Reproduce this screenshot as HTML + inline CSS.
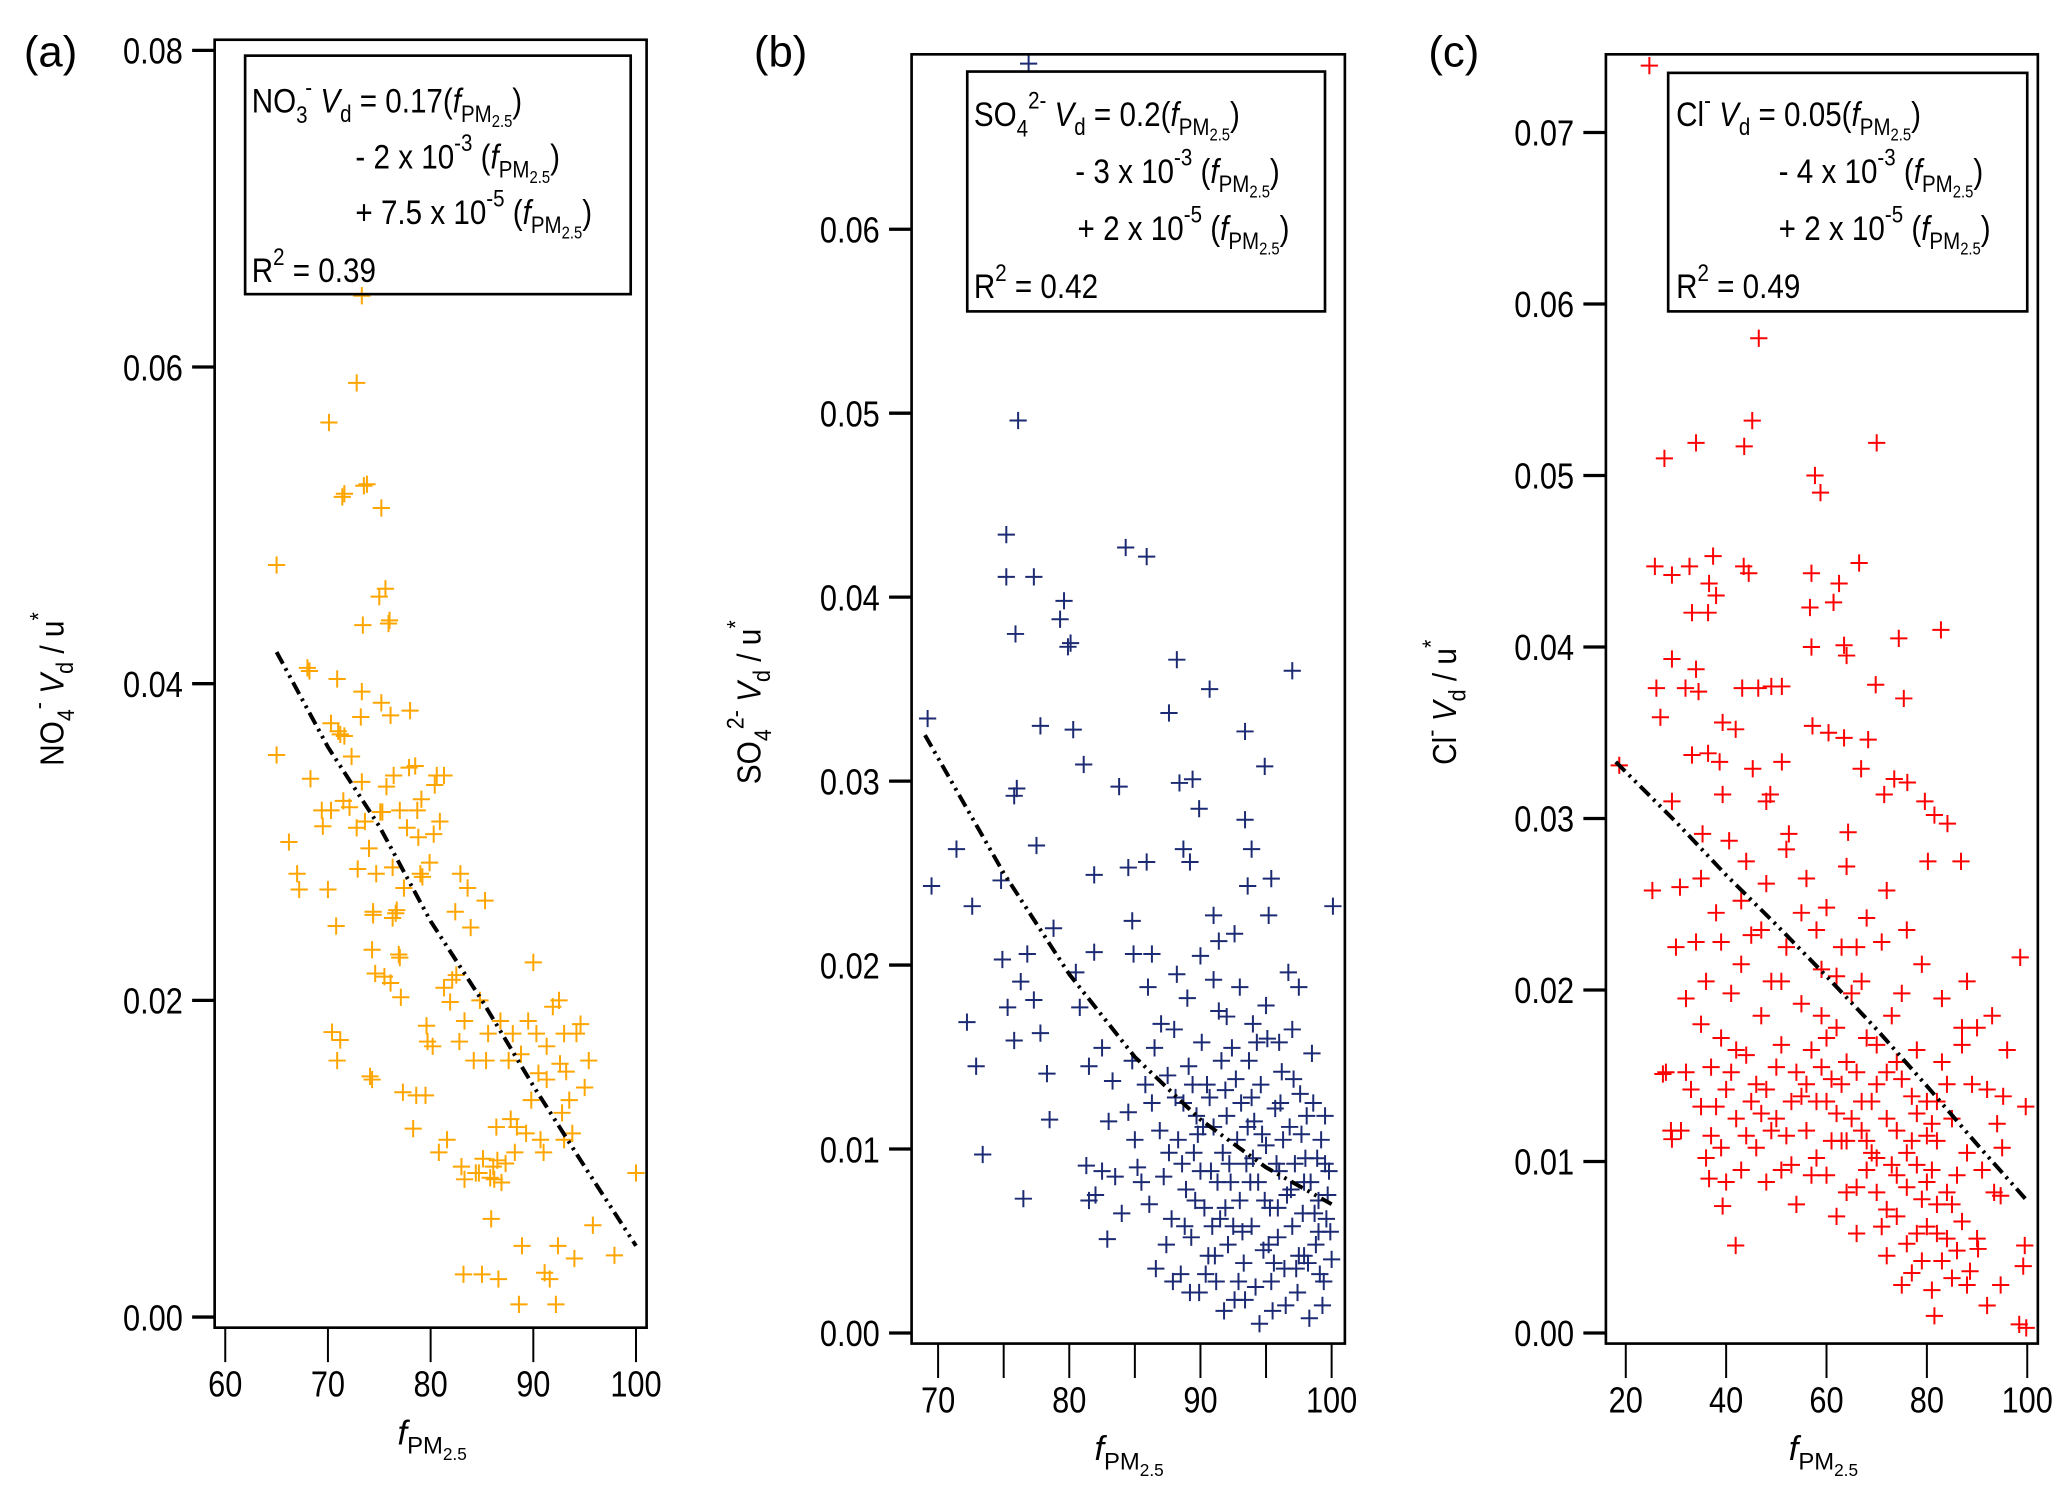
<!DOCTYPE html>
<html><head><meta charset="utf-8">
<style>
html,body{margin:0;padding:0;background:#fff;}
svg{display:block;font-family:"Liberation Sans",Arial,sans-serif;}
</style></head>
<body>
<svg id="fig" width="2067" height="1488" viewBox="0 0 1560 1123" preserveAspectRatio="none" xmlns="http://www.w3.org/2000/svg">
<g id="layer"></g>

<text x="18" y="50" font-size="33">(a)</text>
<text x="569" y="50" font-size="33">(b)</text>
<text x="1078" y="50" font-size="33">(c)</text>

<g font-size="26">
<rect x="185" y="42" width="291" height="180" fill="none" stroke="#000" stroke-width="2"/>
<g transform="translate(190,0) scale(0.86,1) translate(-190,0)">
<text x="190" y="85">NO<tspan dy="8" font-size="18">3</tspan><tspan dx="-2" dy="-21" font-size="18">-</tspan><tspan dy="13">  </tspan><tspan font-style="italic">V</tspan><tspan dy="7" font-size="18">d</tspan><tspan dy="-7"> = 0.17(</tspan><tspan font-style="italic">f</tspan><tspan dy="7" font-size="18">PM</tspan><tspan dy="4" font-size="13">2.5</tspan><tspan dy="-11">)</tspan></text>
<text x="281" y="127">- 2 x 10<tspan dy="-13" font-size="18">-3</tspan><tspan dy="13"> (</tspan><tspan font-style="italic">f</tspan><tspan dy="7" font-size="18">PM</tspan><tspan dy="4" font-size="13">2.5</tspan><tspan dy="-11">)</tspan></text>
<text x="281" y="169">+ 7.5 x 10<tspan dy="-13" font-size="18">-5</tspan><tspan dy="13"> (</tspan><tspan font-style="italic">f</tspan><tspan dy="7" font-size="18">PM</tspan><tspan dy="4" font-size="13">2.5</tspan><tspan dy="-11">)</tspan></text>
<text x="190" y="213">R<tspan dy="-13" font-size="18">2</tspan><tspan dy="13"> = 0.39</tspan></text>
</g></g>
<g font-size="26">
<rect x="730" y="54" width="270" height="181" fill="none" stroke="#000" stroke-width="2"/>
<g transform="translate(735,0) scale(0.86,1) translate(-735,0)">
<text x="735" y="95">SO<tspan dy="8" font-size="18">4</tspan><tspan dy="-21" font-size="18">2-</tspan><tspan dy="13"> </tspan><tspan font-style="italic">V</tspan><tspan dy="7" font-size="18">d</tspan><tspan dy="-7"> = 0.2(</tspan><tspan font-style="italic">f</tspan><tspan dy="7" font-size="18">PM</tspan><tspan dy="4" font-size="13">2.5</tspan><tspan dy="-11">)</tspan></text>
<text x="824" y="138">- 3 x 10<tspan dy="-13" font-size="18">-3</tspan><tspan dy="13"> (</tspan><tspan font-style="italic">f</tspan><tspan dy="7" font-size="18">PM</tspan><tspan dy="4" font-size="13">2.5</tspan><tspan dy="-11">)</tspan></text>
<text x="826" y="181">+ 2 x 10<tspan dy="-13" font-size="18">-5</tspan><tspan dy="13"> (</tspan><tspan font-style="italic">f</tspan><tspan dy="7" font-size="18">PM</tspan><tspan dy="4" font-size="13">2.5</tspan><tspan dy="-11">)</tspan></text>
<text x="735" y="225">R<tspan dy="-13" font-size="18">2</tspan><tspan dy="13"> = 0.42</tspan></text>
</g></g>
<g font-size="26">
<rect x="1259" y="55" width="271" height="180" fill="none" stroke="#000" stroke-width="2"/>
<g transform="translate(1265,0) scale(0.86,1) translate(-1265,0)">
<text x="1265" y="95">Cl<tspan dy="-13" font-size="18">-</tspan><tspan dy="13">  </tspan><tspan font-style="italic">V</tspan><tspan dy="7" font-size="18">d</tspan><tspan dy="-7"> = 0.05(</tspan><tspan font-style="italic">f</tspan><tspan dy="7" font-size="18">PM</tspan><tspan dy="4" font-size="13">2.5</tspan><tspan dy="-11">)</tspan></text>
<text x="1355" y="138">- 4 x 10<tspan dy="-13" font-size="18">-3</tspan><tspan dy="13"> (</tspan><tspan font-style="italic">f</tspan><tspan dy="7" font-size="18">PM</tspan><tspan dy="4" font-size="13">2.5</tspan><tspan dy="-11">)</tspan></text>
<text x="1355" y="181">+ 2 x 10<tspan dy="-13" font-size="18">-5</tspan><tspan dy="13"> (</tspan><tspan font-style="italic">f</tspan><tspan dy="7" font-size="18">PM</tspan><tspan dy="4" font-size="13">2.5</tspan><tspan dy="-11">)</tspan></text>
<text x="1265" y="225">R<tspan dy="-13" font-size="18">2</tspan><tspan dy="13"> = 0.49</tspan></text>
</g></g>

<text transform="translate(48,520) rotate(-90) scale(0.9,1)" text-anchor="middle" font-size="25">NO<tspan dy="8" font-size="18">4</tspan><tspan dy="-21" font-size="18">-</tspan><tspan dy="13"> </tspan><tspan font-style="italic">V</tspan><tspan dy="7" font-size="18">d</tspan><tspan dy="-7"> / u</tspan><tspan dy="-13" font-size="18">*</tspan></text>
<text transform="translate(574,530) rotate(-90) scale(0.9,1)" text-anchor="middle" font-size="25">SO<tspan dy="8" font-size="18">4</tspan><tspan dy="-21" font-size="18">2-</tspan><tspan dy="13"> </tspan><tspan font-style="italic">V</tspan><tspan dy="7" font-size="18">d</tspan><tspan dy="-7"> / u</tspan><tspan dy="-13" font-size="18">*</tspan></text>
<text transform="translate(1099,530) rotate(-90) scale(0.9,1)" text-anchor="middle" font-size="25">Cl<tspan dy="-13" font-size="18">-</tspan><tspan dy="13"> </tspan><tspan font-style="italic">V</tspan><tspan dy="7" font-size="18">d</tspan><tspan dy="-7"> / u</tspan><tspan dy="-13" font-size="18">*</tspan></text>

<text x="300" y="1090" font-size="26"><tspan font-style="italic">f</tspan><tspan dy="7" font-size="18">PM</tspan><tspan dy="5" font-size="13">2.5</tspan></text>
<text x="826" y="1102" font-size="26"><tspan font-style="italic">f</tspan><tspan dy="7" font-size="18">PM</tspan><tspan dy="5" font-size="13">2.5</tspan></text>
<text x="1350" y="1102" font-size="26"><tspan font-style="italic">f</tspan><tspan dy="7" font-size="18">PM</tspan><tspan dy="5" font-size="13">2.5</tspan></text>
</svg>

<script>
const xTicksA = [60,70,80,90,100];
const yTicksA = [0.00,0.02,0.04,0.06,0.08];
const xTicksB = [70,75,80,85,90,95,100];
const xLabelsB = [70,80,90,100];
const yTicksB = [0.00,0.01,0.02,0.03,0.04,0.05,0.06];
const xTicksC = [20,40,60,80,100];
const yTicksC = [0.00,0.01,0.02,0.03,0.04,0.05,0.06,0.07];

const fitXA = [65,70,75,80,85,90,95,100];
const fitYA = [0.042,0.036,0.031,0.025,0.020,0.0146,0.0095,0.0045];
const fitXB = [69,75,80,85,90,95,100];
const fitYB = [0.0325,0.025,0.0195,0.015,0.0116,0.009,0.007];
const fitXC = [18,30,40,50,60,70,80,90,100];
const fitYC = [0.0333,0.0298,0.0267,0.0238,0.0208,0.0177,0.0144,0.011,0.0077];

const pointsA = [[65.0,.0475],[65.0,.0355],[66.2,.030],[67.0,.028],[67.2,.027],[68.0,.041],[68.2,.0408],[68.3,.034],[69.4,.032],[69.5,.031],[70.1,.0565],[70.3,.0375],[70.3,.032],[70.0,.027],[70.9,.0403],[71.0,.037],[71.2,.0368],[70.8,.0247],[71.4,.0518],[71.6,.052],[71.6,.0367],[71.5,.0326],[71.2,.0175],[70.4,.018],[70.9,.0162],[72.1,.0322],[72.3,.0354],[72.8,.059],[72.8,.0309],[72.9,.0283],[73.2,.0379],[73.3,.0338],[73.3,.0395],[73.4,.0437],[73.5,.0525],[73.6,.0313],[73.8,.0526],[74.0,.0296],[74.1,.0152],[74.3,.015],[74.3,.0232],[74.4,.0254],[74.4,.0256],[74.6,.0217],[74.7,.028],[75.0,.0455],[75.1,.0319],[75.2,.0511],[75.2,.0388],[75.3,.0319],[75.5,.0215],[75.6,.046],[75.7,.0335],[75.9,.0438],[76.0,.0440],[76.1,.038],[76.1,.0211],[76.3,.0284],[76.3,.0252],[76.4,.0342],[76.6,.0255],[76.7,.0257],[76.9,.0229],[77.0,.0227],[77.0,.032],[77.1,.0202],[77.3,.0142],[77.4,.0271],[77.7,.0309],[77.9,.0347],[78.0,.0383],[78.3,.0119],[78.5,.0348],[78.6,.014],[78.7,.032],[78.8,.0303],[79.0,.028],[79.1,.0327],[79.2,.0278],[79.5,.014],[79.6,.0184],[79.7,.0174],[79.9,.0287],[80.2,.0171],[80.3,.0305],[80.4,.0336],[80.6,.0342],[80.8,.0104],[80.9,.0313],[81.3,.0208],[81.3,.0342],[81.6,.0112],[81.9,.0199],[82.1,.0213],[82.4,.0256],[82.5,.0216],[82.8,.0174],[82.9,.028],[83.0,.0095],[83.2,.0027],[83.3,.0187],[83.3,.0087],[83.6,.0271],[83.9,.0246],[84.2,.0162],[84.4,.0091],[84.7,.0091],[84.8,.0200],[85.0,.0027],[85.1,.0100],[85.3,.0263],[85.4,.0162],[85.6,.0179],[85.8,.0088],[85.9,.0062],[86.1,.0095],[86.2,.0087],[86.4,.0120],[86.5,.0099],[86.6,.0024],[86.8,.0187],[86.9,.0085],[87.3,.0097],[87.6,.0162],[87.8,.0125],[88.0,.0179],[88.2,.0104],[88.4,.0120],[88.6,.0008],[88.8,.0166],[88.9,.0045],[89.3,.0116],[89.5,.0187],[89.8,.0137],[90.0,.0224],[90.3,.0179],[90.5,.0154],[90.7,.0112],[91.0,.0104],[91.1,.0028],[91.3,.0171],[91.3,.0150],[91.6,.0024],[91.9,.0196],[92.2,.0008],[92.4,.0045],[92.5,.0200],[92.6,.0160],[92.8,.0129],[93.0,.0112],[93.0,.0179],[93.2,.0155],[93.5,.0137],[93.8,.0116],[94.0,.0037],[94.2,.0179],[94.6,.0185],[95.0,.0145],[95.4,.0162],[95.8,.0058],[97.9,.0039],[100.0,.0091],[73.3,.0645]];

const pointsB = [[69.2,.0334],[69.5,.0243],[71.4,.0263],[72.6,.0232],[72.2,.0169],[72.9,.0145],[73.4,.0097],[74.8,.0246],[75.2,.0434],[75.2,.0411],[76.1,.0496],[75.9,.038],[76.0,.0296],[75.8,.0292],[76.5,.0073],[77.3,.0411],[77.5,.0265],[77.8,.033],[74.9,.0203],[75.3,.0177],[75.8,.0159],[76.3,.0191],[76.8,.0206],[77.3,.0181],[77.8,.0163],[78.3,.0141],[78.5,.0116],[78.8,.022],[79.3,.0388],[79.6,.0398],[79.9,.0373],[80.1,.0375],[80.3,.0328],[80.5,.0196],[80.8,.0177],[81.1,.0309],[81.3,.0091],[81.5,.0145],[81.9,.0207],[81.9,.0249],[82.5,.0155],[82.9,.0051],[83.3,.0137],[83.8,.0297],[84.3,.0427],[84.5,.0253],[84.8,.0224],[84.9,.0206],[85.9,.0422],[85.9,.0256],[86.3,.0206],[87.6,.0337],[88.2,.0366],[88.4,.0299],[88.7,.0263],[89.4,.0301],[89.9,.0285],[89.2,.0256],[90.7,.035],[91.0,.0227],[91.4,.0213],[92.6,.0217],[93.4,.0327],[93.4,.0279],[93.6,.0243],[93.9,.0263],[94.9,.0308],[95.2,.0227],[95.4,.0247],[97.0,.036],[96.7,.0196],[97.5,.0188],[100.1,.0232],[76.9,.069],
[84.5,.012],[85.2,.009],[85.8,.0135],[86.1,.007],[86.5,.0155],[86.9,.011],[87.2,.0085],[87.5,.014],[87.8,.0062],[88.0,.0165],[88.3,.0105],[88.5,.0032],[88.7,.0125],[88.9,.0078],[89.1,.0145],[89.3,.0052],[89.5,.0098],[89.7,.0118],[89.9,.0022],[90.1,.0158],[90.3,.0068],[90.5,.0135],[90.6,.0042],[90.8,.0088],[91.0,.0112],[91.2,.0028],[91.4,.0175],[91.5,.0062],[91.7,.0098],[91.9,.0132],[92.1,.0048],[92.3,.0082],[92.4,.0155],[92.6,.0018],[92.8,.0105],[93.0,.0072],[93.1,.0125],[93.3,.0038],[93.5,.0092],[93.7,.0148],[93.9,.0058],[94.1,.0115],[94.2,.0025],[94.4,.0082],[94.6,.0135],[94.8,.0045],[95.0,.0102],[95.1,.016],[95.3,.0068],[95.5,.0012],[95.7,.0122],[95.9,.0052],[96.0,.0088],[96.2,.0142],[96.4,.0035],[96.6,.0075],[96.8,.0112],[97.0,.0058],[97.2,.0092],[97.4,.0022],[97.6,.013],[97.8,.0065],[98.0,.0095],[98.2,.0038],[98.4,.0082],[98.6,.0125],[98.8,.0048],[99.0,.0072],[99.2,.0105],[99.4,.0028],[99.6,.0062],[99.8,.0088],[100,.004],
[86.0,.0188],[87.0,.0168],[88.2,.0195],[89.0,.0182],[90.0,.0205],[91.0,.0192],[92.0,.0172],[93.0,.0188],[94.0,.0168],[95.0,.0178],[96.0,.0158],[97.0,.0165],[98.5,.0152],[99.5,.0118],
[85.0,.0105],[86.3,.0125],[87.4,.0048],[88.6,.0092],[89.4,.0135],[90.2,.0112],[90.9,.0058],[91.6,.0148],[92.2,.0092],[92.9,.0028],[93.6,.0112],[94.3,.0158],[94.9,.0072],[95.6,.0038],[96.3,.0105],[97.1,.0138],[97.9,.0042],[98.7,.0065],[99.3,.0015],[99.9,.0055],
[89.2,.0022],[90.4,.0032],[91.8,.0012],[92.5,.0058],[93.4,.0018],[94.5,.0005],[95.4,.0028],[96.5,.0015],[97.5,.0042],[98.3,.0008],[99.1,.0032],
[88.1,.0128],[89.6,.0072],[90.7,.0128],[91.3,.0082],[92.7,.0138],[93.8,.0082],[94.7,.0108],[95.8,.0092],[96.9,.0078],[97.7,.0108],[98.9,.0095],[99.7,.0075],
[83.5,.0085],[84.0,.0065],[82.0,.0075],[81.5,.0072],[83.0,.0115],[84.8,.0148],[86.6,.0035],[87.6,.0098],[88.8,.0058],[90.0,.0088],[91.1,.0042],[92.0,.0118],[93.2,.0055],[94.0,.0095],[95.2,.0048],[96.1,.0125],[97.3,.0035],[98.1,.0118],[99.0,.0055],
[82.5,.0088],[85.5,.0082],[87.9,.0028],[89.8,.0108],[91.9,.0068],[93.9,.0128],[95.9,.0068],[97.9,.0082],[99.5,.0092]];

const pointsC = [[24.7,.0739],[46.5,.058],[45.2,.0532],[43.6,.0517],[34.0,.0519],[27.7,.0510],[57.7,.050],[58.8,.049],[70.0,.0519],[25.8,.0447],[29.2,.0442],[32.7,.0447],[37.4,.0453],[43.5,.0447],[44.5,.0443],[57.0,.0443],[62.5,.0437],[66.5,.0449],[36.6,.0437],[38.0,.043],[33.2,.042],[36.4,.042],[56.7,.0423],[61.4,.0426],[82.8,.041],[74.4,.0405],[57.0,.040],[63.5,.0401],[64.0,.0395],[29.2,.0393],[34.0,.0387],[26.1,.0376],[31.9,.0376],[34.5,.0374],[43.2,.0376],[46.4,.0376],[49.0,.0377],[51.1,.0377],[69.8,.0378],[75.4,.037],[26.9,.0359],[39.3,.0356],[41.9,.0352],[57.2,.0354],[60.4,.035],[63.5,.0347],[68.3,.0346],[18.7,.0331],[33.2,.0337],[36.4,.0338],[38.7,.0333],[45.3,.0329],[51.1,.0333],[66.9,.0329],[73.5,.0323],[76.1,.0321],[29.2,.031],[39.3,.0314],[48.0,.031],[48.8,.0314],[71.5,.0314],[79.6,.031],[81.5,.0302],[84.1,.0297],[35.3,.0291],[40.6,.0287],[52.5,.0291],[64.3,.0292],[80.2,.0275],[86.8,.0275],[98.6,.0219],[25.3,.0258],[30.8,.026],[99.7,.0132],[95.2,.0138],[41.9,.0051],[88.6,.0036],[94.7,.0028],[98.4,.0005],[99.5,.0051],[99.2,.0039],[90.2,.0049],[92.0,.0016],[81.5,.001],[27.4,.0151],[29.2,.0113],[36.6,.009],[39.3,.0074],[93.4,.0082],[94.7,.008],[99.8,.0003],
[30,.0225],[32,.0195],[34,.0228],[35,.018],[36,.0205],[37,.0155],[38,.0245],[39,.0172],[40,.0142],[41,.0198],[42,.0125],[43,.0215],[44,.0162],[45,.0232],[46,.0108],[47,.0185],[48,.0142],[49,.0205],[50,.0125],[51,.0168],[52,.0225],[53,.0098],[54,.0152],[55,.0192],[56,.0118],[57,.0165],[58,.0135],[59,.0212],[60,.0092],[61,.0148],[62,.0178],[63,.0112],[64,.0158],[65,.0198],[66,.0085],[67,.0135],[68,.0172],[69,.0105],[70,.0145],[71,.0062],[72,.0125],[73,.0185],[74,.0092],[75,.0148],[76,.0052],[77,.0112],[78,.0165],[79,.0078],[80,.0135],[81,.0095],[82,.0058],[83,.0158],[84,.0082],[85,.0125],[86,.0048],[87,.0178],[88,.0105],
[28,.0152],[31,.0118],[33,.0142],[36,.0102],[38,.0132],[40,.0088],[42,.0165],[44,.0115],[46,.0145],[48,.0088],[50,.0155],[52,.0115],[54,.0075],[56,.0145],[58,.0102],[60,.0172],[62,.0128],[64,.0082],[66,.0152],[68,.0112],[70,.0082],[72,.0152],[74,.0118],[76,.0085],[78,.0128],[80,.0062],[82,.0112],[84,.0145],[86,.0092],
[35,.0265],[39,.0228],[43,.0252],[47,.0235],[51,.0205],[55,.0245],[59,.0185],[63,.0225],[67,.0205],[71,.0228],[75,.0198],[79,.0215],[83,.0195],[87,.0168],
[37,.0115],[41,.0152],[45,.0135],[49,.0118],[53,.0135],[57,.0092],[61,.0112],[65,.0125],[69,.0135],[73,.0098],[77,.0138],[81,.0122],[85,.0075],[89,.0145],
[44,.0275],[48,.0262],[52,.0282],[56,.0265],[60,.0248],[64,.0272],[68,.0242],[72,.0258],[76,.0235],[66,.0225],[58,.0235],[62,.0208],
[62,.0068],[66,.0058],[70,.0102],[72,.0045],[74,.0068],[75,.0028],[76,.0105],[77,.0035],[78,.0058],[79,.0042],[80,.0088],[81,.0025],[82,.0075],[83,.0042],[84,.0055],[85,.0032],[87,.0065],[88,.0028],[90,.0055],
[60,.0135],[64,.0112],[68,.0095],[72,.0072],[74,.0158],[78,.0098],[80,.0115],[82,.0135],[70,.0168],[67,.0118],[63,.0145],[59,.0155],[55,.0138],[51,.0095],[47,.0128],[43,.0095],[39,.0108],[35,.0132],[32,.0152],[29,.0118],
[90,.0178],[92,.0142],[94,.0122],[96,.0165],[91,.0095],[93,.0185],[95,.0108],[88,.0205]];

const NS = "http://www.w3.org/2000/svg";
const layer = document.getElementById('layer');
function mk(tag, attrs, parent){
  const e = document.createElementNS(NS, tag);
  for (const k in attrs) e.setAttribute(k, attrs[k]);
  (parent||layer).appendChild(e);
  return e;
}
function scale(d0,d1,p0,p1){ return v => p0 + (v-d0)*(p1-p0)/(d1-d0); }
const NARROW = 0.86;

function panel(id, cfg){
  const g = mk('g', {});
  
  
  const sx = scale(cfg.xd[0], cfg.xd[1], cfg.xp[0], cfg.xp[1]);
  const sy = scale(cfg.yd[0], cfg.yd[1], cfg.yp[0], cfg.yp[1]);
  const pg = mk('g', {stroke: cfg.color, 'stroke-width': 1.5, fill: 'none'}, g);
  
  
  cfg.points.forEach(p => {
    const x = sx(p[0]), y = sy(p[1]);
    const m = mk('path', {d: `M${x-6.5},${y}h13M${x},${y-6.5}v13`}, pg);
    
    
  });
  const d = cfg.fitX.map((v,i)=> (i?'L':'M') + sx(v) + ',' + sy(cfg.fitY[i])).join('');
  const fl = mk('path', {d, fill:'none', stroke:'#000', 'stroke-width':3, 'stroke-dasharray':'10,4,2,4,2,4'}, g);
  
  
  const f = cfg.frame;
  const fr = mk('rect', {x:f[0], y:f[1], width:f[2]-f[0], height:f[3]-f[1], fill:'none', stroke:'#000', 'stroke-width':2}, g);
  
  
  const ya = mk('g', {}, g);
  
  
  cfg.yTicks.forEach(v => {
    const y = sy(v);
    mk('line', {x1:f[0]-17, x2:f[0], y1:y, y2:y, stroke:'#000', 'stroke-width':2.5}, ya);
    const ax = f[0]-24;
    const t = mk('text', {x:ax, y:y+10, 'text-anchor':'end', 'font-size':27,
      transform:`translate(${ax},0) scale(${NARROW},1) translate(${-ax},0)`}, ya);
    t.textContent = v.toFixed(2);
    
    
  });
  const xa = mk('g', {}, g);
  
  
  cfg.xTicks.forEach(v => {
    const x = sx(v);
    mk('line', {x1:x, x2:x, y1:f[3], y2:f[3]+cfg.tickLen, stroke:'#000', 'stroke-width':1.5}, xa);
  });
  cfg.xLabels.forEach(v => {
    const ax = sx(v);
    const t = mk('text', {x:ax, y:f[3]+cfg.tickLen+26, 'text-anchor':'middle', 'font-size':27,
      transform:`translate(${ax},0) scale(${NARROW},1) translate(${-ax},0)`}, xa);
    t.textContent = v;
    
    
  });
}

panel('a', {xd:[60,100], xp:[170,480], yd:[0,0.08], yp:[994,38], frame:[162,30,488,1002],
  points:pointsA, fitX:fitXA, fitY:fitYA, color:'#FFA500', xTicks:xTicksA, xLabels:xTicksA, yTicks:yTicksA, tickLen:26});
panel('b', {xd:[70,100], xp:[708,1005], yd:[0,0.06], yp:[1006,173], frame:[688,41,1015,1014],
  points:pointsB, fitX:fitXB, fitY:fitYB, color:'#1B2A72', xTicks:xTicksB, xLabels:xLabelsB, yTicks:yTicksB, tickLen:26});
panel('c', {xd:[20,100], xp:[1227,1530], yd:[0,0.07], yp:[1006,100], frame:[1212,41,1538,1014],
  points:pointsC, fitX:fitXC, fitY:fitYC, color:'#FF0000', xTicks:xTicksC, xLabels:xTicksC, yTicks:yTicksC, tickLen:26});
</script>
</body></html>
